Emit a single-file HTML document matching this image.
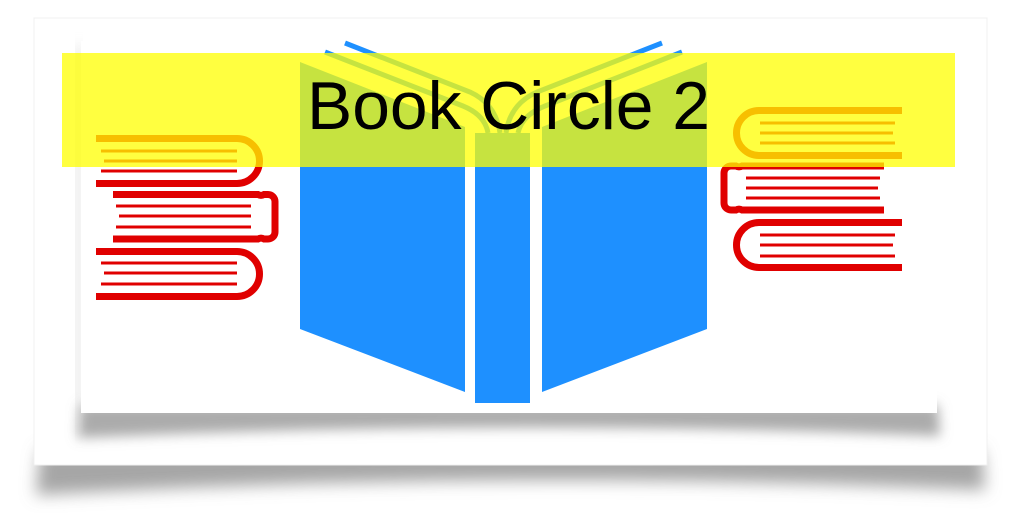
<!DOCTYPE html>
<html><head><style>
html,body{margin:0;padding:0;background:#fff;width:1024px;height:529px;overflow:hidden}
</style></head><body>
<svg width="1024" height="529" viewBox="0 0 1024 529" xmlns="http://www.w3.org/2000/svg">
<defs>
<filter id="b1" x="-10%" y="-50%" width="120%" height="200%"><feGaussianBlur stdDeviation="8"/></filter>
<filter id="b2" x="-10%" y="-50%" width="120%" height="200%"><feGaussianBlur stdDeviation="6"/></filter>
</defs>
<!-- outer card shadow -->
<path d="M40,450 L982,450 L985,490 Q510,468 36,495 Z" fill="#888" fill-opacity="0.75" filter="url(#b1)"/>
<rect x="34" y="18" width="953" height="447" fill="#fff"/>
<rect x="34" y="18" width="953" height="447" fill="none" stroke="#f0f0f0" stroke-width="1"/>
<!-- inner card shadow -->
<path d="M80,405 L938,405 L940,436 Q510,418 78,438 Z" fill="#888" fill-opacity="0.7" filter="url(#b2)"/>
<rect x="76" y="45" width="6" height="390" fill="#ccc" fill-opacity="0.6" filter="url(#b2)"/>
<rect x="81" y="41" width="856" height="372" fill="#fff"/>
<!-- blue book -->
<g fill="#1e90ff">
<polygon points="300,62 465,127 465,392 300,329"/>
<polygon points="475,133 530,133 530,403 475,403"/>
<polygon points="542,127 707,62 707,329 542,392"/>
</g>
<g fill="none" stroke="#1e90ff" stroke-width="5">
<path d="M325,52 L463,106 Q485,115 488,133"/>
<path d="M345,43 L470,92 Q496,104 500,133"/>
<path d="M682,52 L545,106 Q522,115 518,133"/>
<path d="M662,43 L537,92 Q510,104 506,133"/>
</g>
<!-- left stack -->
<g fill="none" stroke="#e00000">
<path d="M96,138.5 H237 A22.5,22.5 0 0 1 237,183.5 H96" stroke-width="7"/>
<path d="M101,151 H237 M104,161 H237 M101,171 H237" stroke-width="3"/>
<path d="M113,194.5 H258 a6,6 0 0 0 6,0 h4 a7,7 0 0 1 7,7 V232 a7,7 0 0 1 -7,7 h-4 a6,6 0 0 0 -6,0 H113" stroke-width="7"/>
<path d="M116,206 H251 M119,216 H251 M116,227 H251" stroke-width="3"/>
<path d="M96,251.5 H237 A22.5,22.5 0 0 1 237,296.5 H96" stroke-width="7"/>
<path d="M101,263 H237 M104,273 H237 M101,284 H237" stroke-width="3"/>
</g>
<!-- right stack -->
<g fill="none" stroke="#e00000">
<path d="M902,110.5 H759 A22.5,22.5 0 0 0 759,155.5 H902" stroke-width="7"/>
<path d="M760,123 H895 M760,133 H893 M760,143 H895" stroke-width="3"/>
<path d="M884,166 H742 a6,6 0 0 1 -6,0 h-5 a7,7 0 0 0 -7,7 V203 a7,7 0 0 0 7,7 h5 a6,6 0 0 1 6,0 H884" stroke-width="7"/>
<path d="M746,178 H880 M746,188 H878 M746,198 H880" stroke-width="3"/>
<path d="M902,222.5 H759 A22.5,22.5 0 0 0 759,267.5 H902" stroke-width="7"/>
<path d="M760,235 H895 M760,245 H893 M760,256 H895" stroke-width="3"/>
</g>
<!-- yellow band -->
<rect x="62" y="53" width="893" height="114" fill="#ffff00" fill-opacity="0.75"/>
<text x="307" y="129" font-family="Liberation Sans, sans-serif" font-size="68" fill="#000" textLength="403" lengthAdjust="spacingAndGlyphs">Book Circle 2</text>
</svg>
</body></html>
